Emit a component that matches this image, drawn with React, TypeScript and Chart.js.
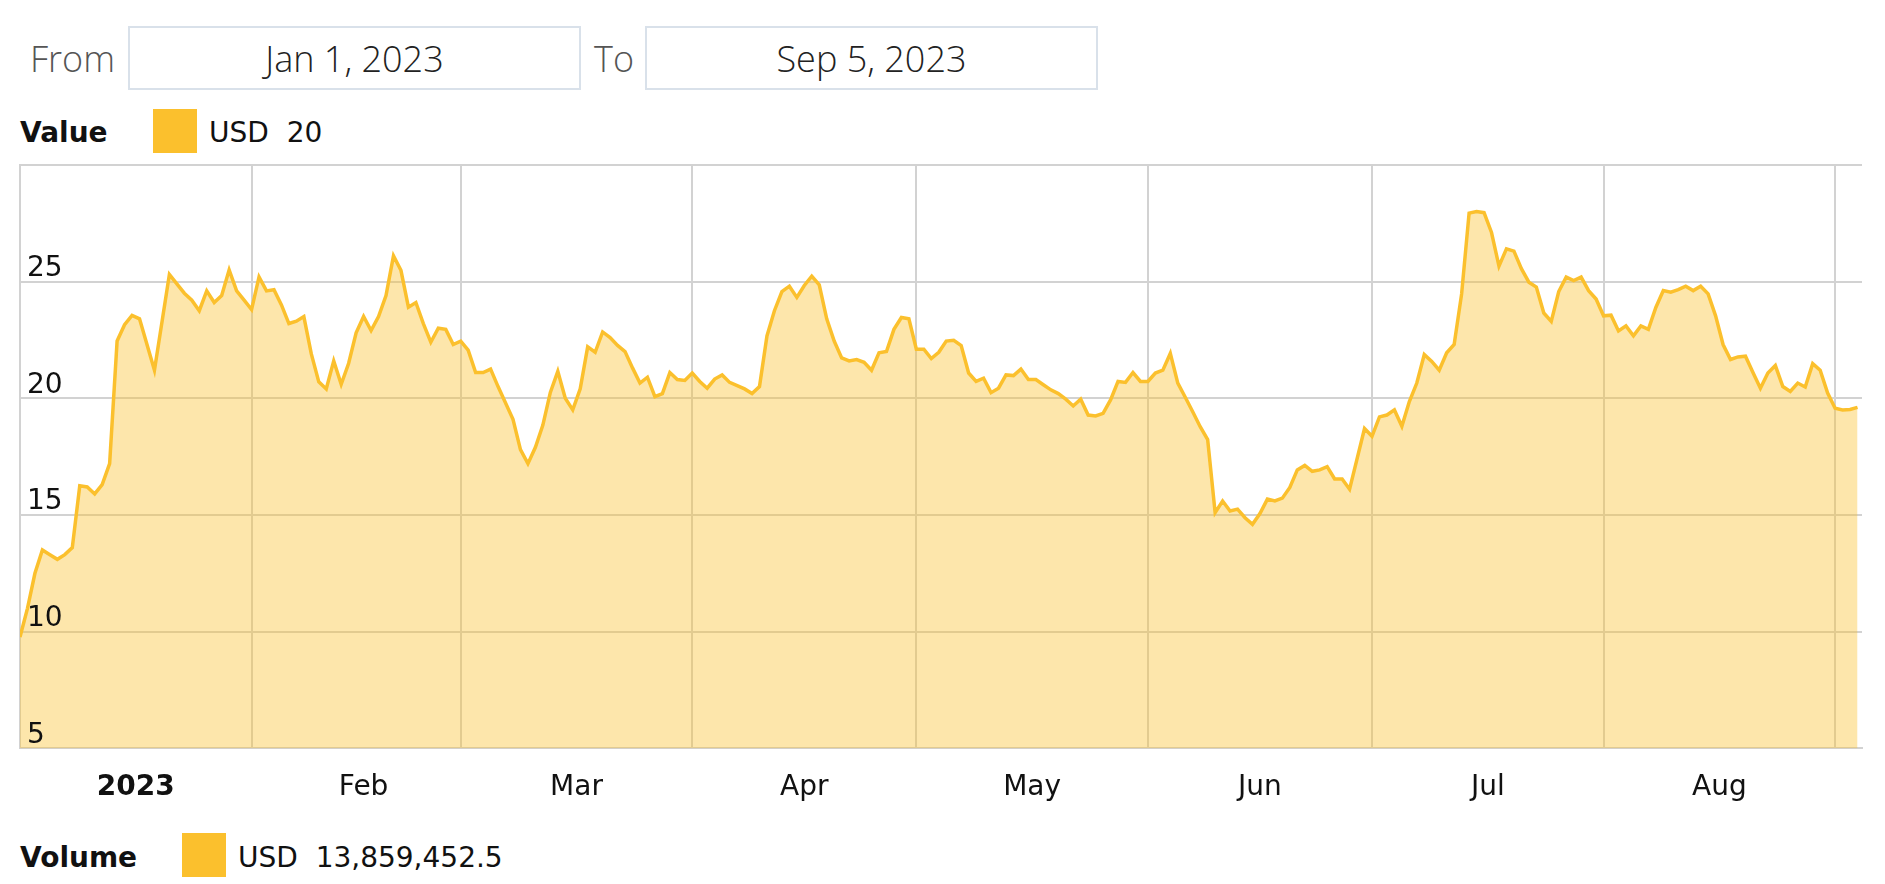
import React, { useEffect, useRef } from 'react';
import { Chart, registerables } from 'chart.js';

Chart.register(...registerables);

// ---- data (day offsets from Jan 1, 2023) ----
const days = [
  0, 1, 2, 3, 4, 5, 6, 7, 8, 9, 10, 11, 12, 13, 14, 15, 16, 17, 18, 20,
  21, 22, 23, 24, 25, 26, 27, 28, 29, 30, 31, 32, 33, 34, 35, 36, 37, 38, 39, 40,
  41, 42, 43, 44, 45, 46, 47, 48, 49, 50, 51, 52, 53, 54, 55, 56, 57, 58, 59, 60,
  61, 62, 63, 64, 66, 67, 68, 69, 70, 71, 72, 73, 74, 75, 76, 77, 78, 79, 80, 81,
  82, 83, 84, 85, 86, 87, 88, 89, 90, 91, 92, 93, 94, 95, 97, 98, 99, 100, 101, 102,
  103, 104, 105, 106, 107, 108, 109, 110, 111, 112, 113, 114, 115, 116, 117, 118, 119, 120, 121, 122,
  123, 124, 125, 126, 127, 128, 129, 130, 131, 132, 133, 134, 135, 136, 137, 138, 139, 140, 141, 142,
  143, 144, 145, 146, 147, 148, 149, 150, 151, 152, 153, 154, 155, 156, 157, 158, 159, 160, 161, 162,
  163, 164, 165, 166, 167, 168, 169, 170, 171, 172, 173, 174, 175, 176, 177, 178, 179, 180, 181, 182,
  183, 184, 185, 186, 187, 188, 189, 190, 191, 192, 193, 194, 195, 196, 197, 198, 199, 200, 201, 202,
  203, 204, 205, 206, 207, 208, 209, 210, 211, 212, 213, 214, 215, 216, 217, 218, 219, 220, 221, 222,
  223, 224, 225, 226, 227, 228, 229, 230, 231, 232, 233, 234, 235, 236, 237, 238, 239, 240, 241, 242,
  243, 244, 245, 246,
];

const values = [
  9.77, 11.0, 12.5, 13.5, 13.3, 13.1, 13.3, 13.6, 16.25, 16.2, 15.9, 16.3, 17.2, 22.45, 23.15, 23.55, 23.4, 22.3, 21.2, 25.3,
  24.9, 24.5, 24.2, 23.75, 24.6, 24.1, 24.4, 25.5, 24.6, 24.2, 23.8, 25.2, 24.6, 24.65, 24.0, 23.2, 23.3, 23.5, 21.9, 20.7,
  20.4, 21.6, 20.6, 21.5, 22.8, 23.5, 22.9, 23.5, 24.4, 26.1, 25.48, 23.9, 24.1, 23.2, 22.4, 23.0, 22.95, 22.3, 22.45, 22.06,
  21.1, 21.1, 21.25, 20.5, 19.1, 17.8, 17.2, 17.9, 18.85, 20.25, 21.15, 20.0, 19.5, 20.4, 22.2, 21.97, 22.84, 22.6, 22.26, 22.0,
  21.3, 20.65, 20.9, 20.07, 20.2, 21.1, 20.8, 20.76, 21.08, 20.72, 20.43, 20.82, 21.0, 20.68, 20.4, 20.2, 20.5, 22.67, 23.75, 24.57,
  24.8, 24.32, 24.83, 25.23, 24.86, 23.4, 22.45, 21.73, 21.6, 21.66, 21.54, 21.2, 21.95, 22.0, 22.95, 23.46, 23.4, 22.1, 22.1, 21.7,
  21.97, 22.45, 22.48, 22.26, 21.08, 20.72, 20.86, 20.24, 20.43, 21.0, 20.97, 21.25, 20.8, 20.8, 20.58, 20.36, 20.2, 19.96, 19.67, 19.96,
  19.28, 19.24, 19.35, 19.93, 20.72, 20.68, 21.1, 20.72, 20.72, 21.08, 21.2, 21.92, 20.65, 20.04, 19.42, 18.78, 18.23, 15.1, 15.6, 15.17,
  15.25, 14.88, 14.6, 15.06, 15.68, 15.6, 15.72, 16.18, 16.93, 17.12, 16.87, 16.93, 17.07, 16.54, 16.54, 16.1, 17.4, 18.7, 18.37, 19.2,
  19.28, 19.5, 18.8, 19.86, 20.65, 21.87, 21.58, 21.2, 21.95, 22.3, 24.47, 27.93, 28.0, 27.95, 27.1, 25.66, 26.4, 26.3, 25.55, 24.97,
  24.76, 23.65, 23.29, 24.57, 25.19, 25.04, 25.19, 24.61, 24.25, 23.53, 23.56, 22.88, 23.1, 22.67, 23.1, 22.95, 23.89, 24.61, 24.54, 24.65,
  24.8, 24.61, 24.8, 24.47, 23.53, 22.3, 21.66, 21.77, 21.8, 21.1, 20.43, 21.08, 21.4, 20.5, 20.29, 20.65, 20.48, 21.48, 21.2, 20.22,
  19.57, 19.5, 19.52, 19.61,
];

const monthStartDays = [31, 59, 90, 120, 151, 181, 212, 243];
const monthLabelDays = [15.5, 46, 74.5, 105, 135.5, 166, 196.5, 227.5];
const monthLabels = ['2023', 'Feb', 'Mar', 'Apr', 'May', 'Jun', 'Jul', 'Aug'];
const yTicks = [5, 10, 15, 20, 25, 30];

const fromDate = 'Jan 1, 2023';
const toDate = 'Sep 5, 2023';
const valueLabel = 'Value';
const valueText = 'USD\u00a0\u00a020';
const volumeLabel = 'Volume';
const volumeText = 'USD\u00a0\u00a013,859,452.5';

const LINE = '#FBC02D';
const FILL = 'rgba(251,192,45,0.4)';
const GRID = '#d2d2d2';
const FONT = '"DejaVu Sans", Verdana, sans-serif';
const TOPFONT = '"Open Sans", sans-serif';

export default function App() {
  const ref = useRef<HTMLCanvasElement | null>(null);

  useEffect(() => {
    document.body.style.margin = '0';
    const canvas = ref.current;
    if (!canvas) return;
    const chart = new Chart(canvas, {
      type: 'line',
      data: {
        datasets: [
          {
            data: days.map((d, i) => ({ x: d, y: values[i] })),
            borderColor: LINE,
            backgroundColor: FILL,
            fill: 'start',
            borderWidth: 3.5,
            pointRadius: 0,
            tension: 0,
          },
        ],
      },
      options: {
        animation: false,
        responsive: false,
        maintainAspectRatio: false,
        layout: { padding: { left: 6, right: 23, top: 0, bottom: 0 } },
        plugins: { legend: { display: false }, tooltip: { enabled: false } },
        scales: {
          x: {
            type: 'linear',
            min: 0,
            max: 246.6,
            position: 'bottom',
            grid: { color: GRID, lineWidth: 2, drawTicks: false },
            border: { display: true, color: GRID, width: 2 },
            ticks: { display: false },
            afterBuildTicks: (axis: any) => {
              axis.ticks = monthStartDays.map((v) => ({ value: v }));
            },
          },
          xl: {
            type: 'linear',
            min: 0,
            max: 246.6,
            position: 'bottom',
            grid: { display: false, drawTicks: false },
            border: { display: false },
            ticks: {
              autoSkip: false,
              maxRotation: 0,
              minRotation: 0,
              padding: 23,
              color: '#111',
              font: (ctx: any) => ({ family: FONT, size: 28, weight: ctx.index === 0 ? 'bold' : 'normal' }),
              callback: (_v: any, i: number) => monthLabels[i],
            },
            afterBuildTicks: (axis: any) => {
              axis.ticks = monthLabelDays.map((v) => ({ value: v }));
            },
          },
          y: {
            type: 'linear',
            min: 5,
            max: 30,
            grid: { color: GRID, lineWidth: 2, drawTicks: false },
            border: { display: true, color: GRID, width: 2 },
            ticks: {
              mirror: true,
              padding: 7,
              labelOffset: -13,
              z: 1,
              color: '#111',
              font: { family: FONT, size: 28 },
              callback: (v: any) => (v === 30 ? '' : String(v)),
            },
            afterBuildTicks: (axis: any) => {
              axis.ticks = yTicks.map((v) => ({ value: v }));
            },
          },
        },
      } as any,
    });
    return () => chart.destroy();
  }, []);

  const box: React.CSSProperties = {
    position: 'absolute',
    top: 26,
    height: 64,
    width: 453,
    boxSizing: 'border-box',
    border: '2px solid #d9e1ea',
    display: 'flex',
    alignItems: 'center',
    justifyContent: 'center',
    fontFamily: TOPFONT,
    fontWeight: 300,
    fontSize: 36,
    color: '#222',
  };
  const lbl: React.CSSProperties = {
    position: 'absolute',
    top: 26,
    height: 64,
    display: 'flex',
    alignItems: 'center',
    fontFamily: TOPFONT,
    fontWeight: 300,
    fontSize: 36,
    color: '#555',
  };
  const txt: React.CSSProperties = {
    position: 'absolute',
    fontFamily: FONT,
    fontSize: 28,
    lineHeight: '28px',
    color: '#111',
    whiteSpace: 'nowrap',
  };

  return (
    <div style={{ position: 'absolute', left: 0, top: 0, width: 1885, height: 884, background: '#fff', overflow: 'hidden' }}>
      <div style={{ ...lbl, left: 30 }}>From</div>
      <div style={{ ...box, left: 128 }}>{fromDate}</div>
      <div style={{ ...lbl, left: 594 }}>To</div>
      <div style={{ ...box, left: 645 }}>{toDate}</div>

      <div style={{ ...txt, left: 20, top: 119, fontWeight: 'bold' }}>{valueLabel}</div>
      <div style={{ position: 'absolute', left: 153, top: 109, width: 44, height: 44, background: LINE }} />
      <div style={{ ...txt, left: 209, top: 119 }}>{valueText}</div>

      <canvas
        ref={ref}
        width={1885}
        height={687}
        style={{ position: 'absolute', left: 0, top: 141, width: 1885, height: 687 }}
      />

      <div style={{ ...txt, left: 20, top: 844, fontWeight: 'bold' }}>{volumeLabel}</div>
      <div style={{ position: 'absolute', left: 182, top: 833, width: 44, height: 44, background: LINE }} />
      <div style={{ ...txt, left: 238, top: 844 }}>{volumeText}</div>
    </div>
  );
}
